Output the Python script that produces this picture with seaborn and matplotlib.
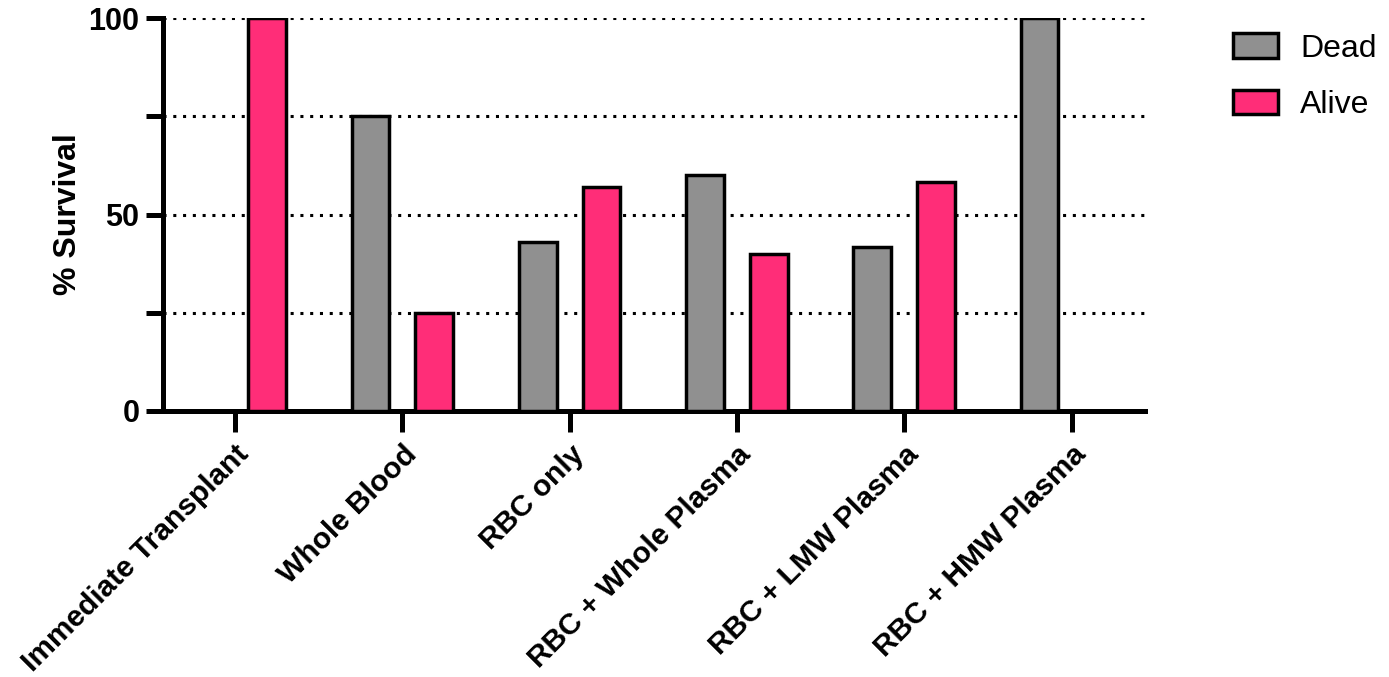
import pandas as pd
import seaborn as sns
import matplotlib.pyplot as plt

# Values
groups = [
    "Immediate Transplant",
    "Whole Blood",
    "RBC only",
    "RBC + Whole Plasma",
    "RBC + LMW Plasma",
    "RBC + HMW Plasma",
]
dead = [0, 75, 42.9, 60, 41.7, 100]
alive = [100, 25, 57.1, 40, 58.3, 0]
statuses = ["Dead", "Alive"]
colors = ["#909090", "#FF2D78"]


def main():
    df = pd.DataFrame({
        "group": groups * 2,
        "status": ["Dead"] * len(groups) + ["Alive"] * len(groups),
        "value": dead + alive,
    })

    sns.set_style("white", rc={
        "text.color": "black",
        "axes.labelcolor": "black",
        "xtick.color": "black",
        "ytick.color": "black",
    })
    plt.rcParams["font.family"] = ["Liberation Sans", "DejaVu Sans"]

    fig = plt.figure(figsize=(13.89, 6.77), dpi=100)
    ax = fig.add_axes([0.1174, 0.393, 0.7066, 0.580])

    sns.barplot(
        data=df, x="group", y="value", hue="status",
        order=groups, hue_order=statuses, palette=colors,
        width=0.764, gap=0.41, edgecolor="black", linewidth=2.5,
        saturation=1, errorbar=None, ax=ax, zorder=3,
    )

    # Dotted horizontal grid lines
    for y in [25, 50, 75, 100]:
        ax.axhline(y, color="black", linestyle=(0, (1, 2.2)), linewidth=2.2, zorder=1)

    ax.set_ylim(0, 100)
    ax.set_xlim(-0.43, 5.436)
    ax.set_yticks([0, 25, 50, 75, 100])
    ax.set_yticklabels(["0", "", "50", "", "100"])

    for side in ["top", "right"]:
        ax.spines[side].set_visible(False)
    for side in ["left", "bottom"]:
        ax.spines[side].set_linewidth(3.6)
        ax.spines[side].set_color("black")

    ax.tick_params(axis="y", length=12, width=3.6, labelsize=22, pad=5, left=True)
    ax.tick_params(axis="x", length=15, width=3.6, labelsize=21.5, pad=6, bottom=True)
    for lab in ax.get_yticklabels():
        lab.set_fontweight("bold")
    for lab in ax.get_xticklabels():
        lab.set_fontweight("bold")
        lab.set_rotation(45)
        lab.set_ha("right")
        lab.set_rotation_mode("anchor")

    ax.set_xlabel("")
    ax.set_ylabel("% Survival", fontsize=23, fontweight="bold", labelpad=4)

    handles, labels = ax.get_legend_handles_labels()
    ax.legend(
        handles, labels, loc="upper left", bbox_to_anchor=(1.09, 0.962),
        frameon=False, fontsize=23, handlelength=1.4, handleheight=0.8,
        labelspacing=0.82, handletextpad=0.7, borderaxespad=0, borderpad=0,
    )

    plt.savefig("out.png", dpi=100)


if __name__ == "__main__":
    main()
